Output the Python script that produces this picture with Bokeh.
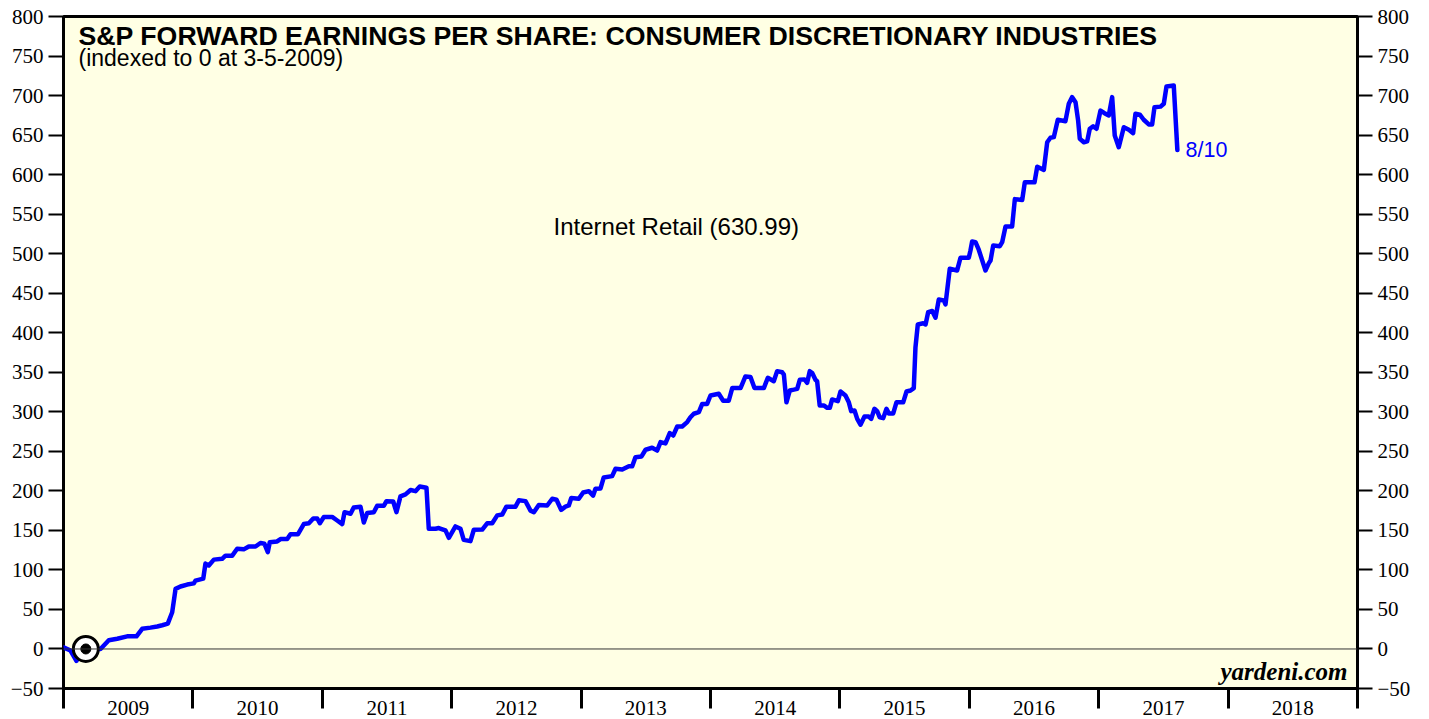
from bokeh.plotting import figure
from bokeh.models import Range1d, LinearAxis, FixedTicker, Span, Label
from bokeh.embed import file_html
from bokeh.resources import INLINE

# ---- data (weekly forward EPS, indexed to 0 at 3-5-2009) ----
years_since_2009 = [
    0.000, 0.054, 0.100, 0.130, 0.170, 0.286, 0.350, 0.415, 0.492, 0.564,
    0.608, 0.672, 0.724, 0.763, 0.806, 0.840, 0.866, 0.904, 0.956, 1.007,
    1.020, 1.080, 1.097, 1.123, 1.162, 1.226, 1.252, 1.304, 1.342, 1.393,
    1.432, 1.484, 1.522, 1.553, 1.579, 1.594, 1.651, 1.677, 1.729, 1.754,
    1.811, 1.857, 1.896, 1.930, 1.961, 1.981, 2.012, 2.076, 2.115, 2.154,
    2.172, 2.218, 2.243, 2.295, 2.321, 2.347, 2.398, 2.424, 2.475, 2.496,
    2.548, 2.573, 2.604, 2.643, 2.682, 2.720, 2.753, 2.805, 2.823, 2.875,
    2.900, 2.934, 2.952, 2.978, 3.029, 3.068, 3.093, 3.145, 3.171, 3.236,
    3.274, 3.313, 3.352, 3.390, 3.423, 3.493, 3.519, 3.570, 3.609, 3.635,
    3.673, 3.738, 3.777, 3.810, 3.846, 3.879, 3.905, 3.924, 3.982, 4.016,
    4.060, 4.093, 4.111, 4.150, 4.175, 4.240, 4.266, 4.318, 4.369, 4.395,
    4.420, 4.467, 4.498, 4.549, 4.588, 4.614, 4.652, 4.685, 4.712, 4.743,
    4.781, 4.820, 4.845, 4.871, 4.910, 4.936, 4.974, 5.000, 5.064, 5.098,
    5.141, 5.168, 5.232, 5.270, 5.309, 5.340, 5.412, 5.443, 5.489, 5.515,
    5.554, 5.567, 5.587, 5.613, 5.644, 5.670, 5.690, 5.726, 5.747, 5.767,
    5.786, 5.811, 5.824, 5.844, 5.875, 5.902, 5.922, 5.940, 5.984, 6.005,
    6.043, 6.069, 6.087, 6.113, 6.134, 6.159, 6.190, 6.223, 6.242, 6.267,
    6.288, 6.308, 6.335, 6.360, 6.378, 6.412, 6.437, 6.489, 6.515, 6.546,
    6.571, 6.584, 6.602, 6.644, 6.662, 6.682, 6.713, 6.739, 6.764, 6.803,
    6.816, 6.849, 6.906, 6.932, 6.996, 7.009, 7.022, 7.048, 7.073, 7.125,
    7.151, 7.164, 7.185, 7.236, 7.254, 7.280, 7.331, 7.352, 7.409, 7.429,
    7.504, 7.525, 7.576, 7.602, 7.627, 7.653, 7.684, 7.743, 7.769, 7.795,
    7.821, 7.841, 7.854, 7.885, 7.911, 7.931, 7.957, 7.983, 8.014, 8.045,
    8.078, 8.104, 8.124, 8.155, 8.194, 8.233, 8.266, 8.284, 8.318, 8.348,
    8.387, 8.413, 8.431, 8.478, 8.503, 8.524, 8.580, 8.608,
]
internet_retail = [
    2, -2, -15, -6, 0, 0, 11, 13, 16, 16,
    25.5, 27, 28.5, 30, 32, 46.5, 76, 79, 81.5, 83,
    86.5, 89, 108, 105.6, 113, 114, 118, 118, 126.7, 126,
    129.6, 129.6, 134, 133, 122.5, 135, 136, 139, 139, 145,
    145, 158, 159, 165, 165, 159, 167, 167, 162.5, 158,
    173, 171, 179, 180, 160, 172, 173, 181, 181, 187,
    186.5, 173, 193, 195.5, 201, 199.6, 205.5, 204, 152, 152,
    153, 151, 150, 140.6, 155, 152, 138, 136.4, 150.8, 151,
    159, 159, 169, 170, 180, 180, 188, 187, 175, 173,
    182, 181.5, 190, 188.7, 176, 180, 181.5, 191, 190, 198,
    199.6, 194, 202.6, 203, 217, 218.6, 228, 227, 231, 231,
    242.6, 243.5, 252, 254.5, 251, 261.6, 260, 273, 270, 281.4,
    281.4, 287, 293, 297.5, 299.5, 310, 310, 320.6, 322.8, 314,
    314, 330, 330, 344.7, 344, 330, 330, 343, 338.7, 351.4,
    350, 347, 312, 327, 328, 329, 340.5, 341, 336.7, 351.4,
    349, 340.5, 338.7, 308, 308, 305, 305, 315.6, 313.4, 325.7,
    320.6, 312, 300.8, 301.7, 291, 283.6, 294, 294, 291, 303.8,
    300.8, 293, 292, 303.8, 298, 298, 312, 312, 325.7, 327,
    330, 381.7, 410.5, 412, 410.5, 426, 427.5, 419, 442, 440.8,
    435.8, 481, 478.8, 494.8, 494.8, 504, 515.4, 514.5, 505, 478.8,
    488, 491.4, 510.4, 509.5, 514.5, 534.4, 534.4, 569, 568, 590.3,
    590.3, 610, 606, 641, 646.6, 647.4, 669.4, 667.6, 689.6, 698,
    691.6, 668.5, 645.3, 641, 642, 658, 661, 658, 681, 677.7,
    674.8, 698, 649.5, 634.7, 660, 656.7, 652.4, 677, 675.8, 669.4,
    663.5, 663.5, 685.3, 686, 689.6, 711.5, 712.8, 630.99,
]
dates = [2009 + t for t in years_since_2009]

index_date = 2009 + 63 / 365.0   # 3-5-2009
index_value = 0

year_bounds = list(range(2009, 2020))
year_mids = [y + 0.5 for y in range(2009, 2019)]
year_labels = {y + 0.5: str(y) for y in range(2009, 2019)}
y_ticks = list(range(-50, 801, 50))

last_label = "8/10"
series_label = "Internet Retail (630.99)"
title_text = "S&P FORWARD EARNINGS PER SHARE: CONSUMER DISCRETIONARY INDUSTRIES"
subtitle_text = "(indexed to 0 at 3-5-2009)"

# ---- figure ----
p = figure(width=1429, height=719,
           x_range=Range1d(2009, 2019), y_range=Range1d(-50, 800),
           output_backend="svg", toolbar_location=None,
           min_border_left=63, min_border_right=72,
           min_border_top=16, min_border_bottom=31,
           background_fill_color="#FFFFE4", border_fill_color="white",
           outline_line_color="black", outline_line_width=3)
p.xgrid.visible = False
p.ygrid.visible = False

SERIF = "Liberation Serif"
SANS = "Liberation Sans"

# bottom axis: tall ticks at year boundaries (minor), labels at mid-year (major, no tick)
xa = p.xaxis[0]
xa.ticker = FixedTicker(ticks=year_mids, minor_ticks=year_bounds)
xa.major_tick_out = 0
xa.major_tick_in = 0
xa.major_tick_line_color = None
xa.minor_tick_out = 20
xa.minor_tick_in = 0
xa.minor_tick_line_width = 3
xa.minor_tick_line_color = "black"
xa.axis_line_color = None
xa.major_label_overrides = year_labels
xa.major_label_text_font = SERIF
xa.major_label_text_font_size = "21px"
xa.major_label_text_color = "black"
xa.major_label_standoff = -8

def style_y(ax):
    ax.ticker = FixedTicker(ticks=y_ticks, minor_ticks=[])
    ax.major_tick_out = 15
    ax.major_tick_in = 0
    ax.major_tick_line_width = 2
    ax.major_tick_line_color = "black"
    ax.axis_line_color = None
    ax.minor_tick_line_color = None
    ax.major_label_text_font = SERIF
    ax.major_label_text_font_size = "21px"
    ax.major_label_text_color = "black"
    ax.major_label_standoff = 5

style_y(p.yaxis[0])
ra = LinearAxis()
style_y(ra)
p.add_layout(ra, "right")

# zero line
p.add_layout(Span(location=0, dimension="width", line_color="#333333", line_width=1))

# series
p.line(dates, internet_retail, line_color="#0000FF", line_width=4.5, line_join="round", line_cap="round")

# index marker
p.scatter([index_date], [index_value], size=25, marker="circle",
          fill_color="white", line_color="black", line_width=3)
p.scatter([index_date], [index_value], size=10, marker="circle",
          fill_color="black", line_color="black")

# texts
p.add_layout(Label(x=2009.116, y=775, text=title_text, text_font=SANS,
                   text_font_style="bold", text_font_size="26.7px",
                   text_baseline="alphabetic", text_color="black"))
p.add_layout(Label(x=2009.116, y=748, text=subtitle_text, text_font=SANS,
                   text_font_size="23px", text_baseline="alphabetic", text_color="black"))
p.add_layout(Label(x=2012.787, y=535, text=series_label, text_font=SANS,
                   text_font_size="24px", text_baseline="alphabetic", text_color="black"))
p.add_layout(Label(x=2017.671, y=internet_retail[-1], text=last_label, text_font=SANS,
                   text_font_size="21.5px", text_baseline="middle", text_color="#0000FF"))
p.add_layout(Label(x=2018.923, y=-29, text="yardeni.com", text_font=SERIF,
                   text_font_style="bold italic", text_font_size="25px",
                   text_align="right", text_baseline="alphabetic", text_color="black"))

html = file_html(p, INLINE)
html = html.replace("<head>", "<head><style>html,body{margin:0;padding:0;overflow:hidden;}</style>", 1)
open("out.html", "w").write(html)
